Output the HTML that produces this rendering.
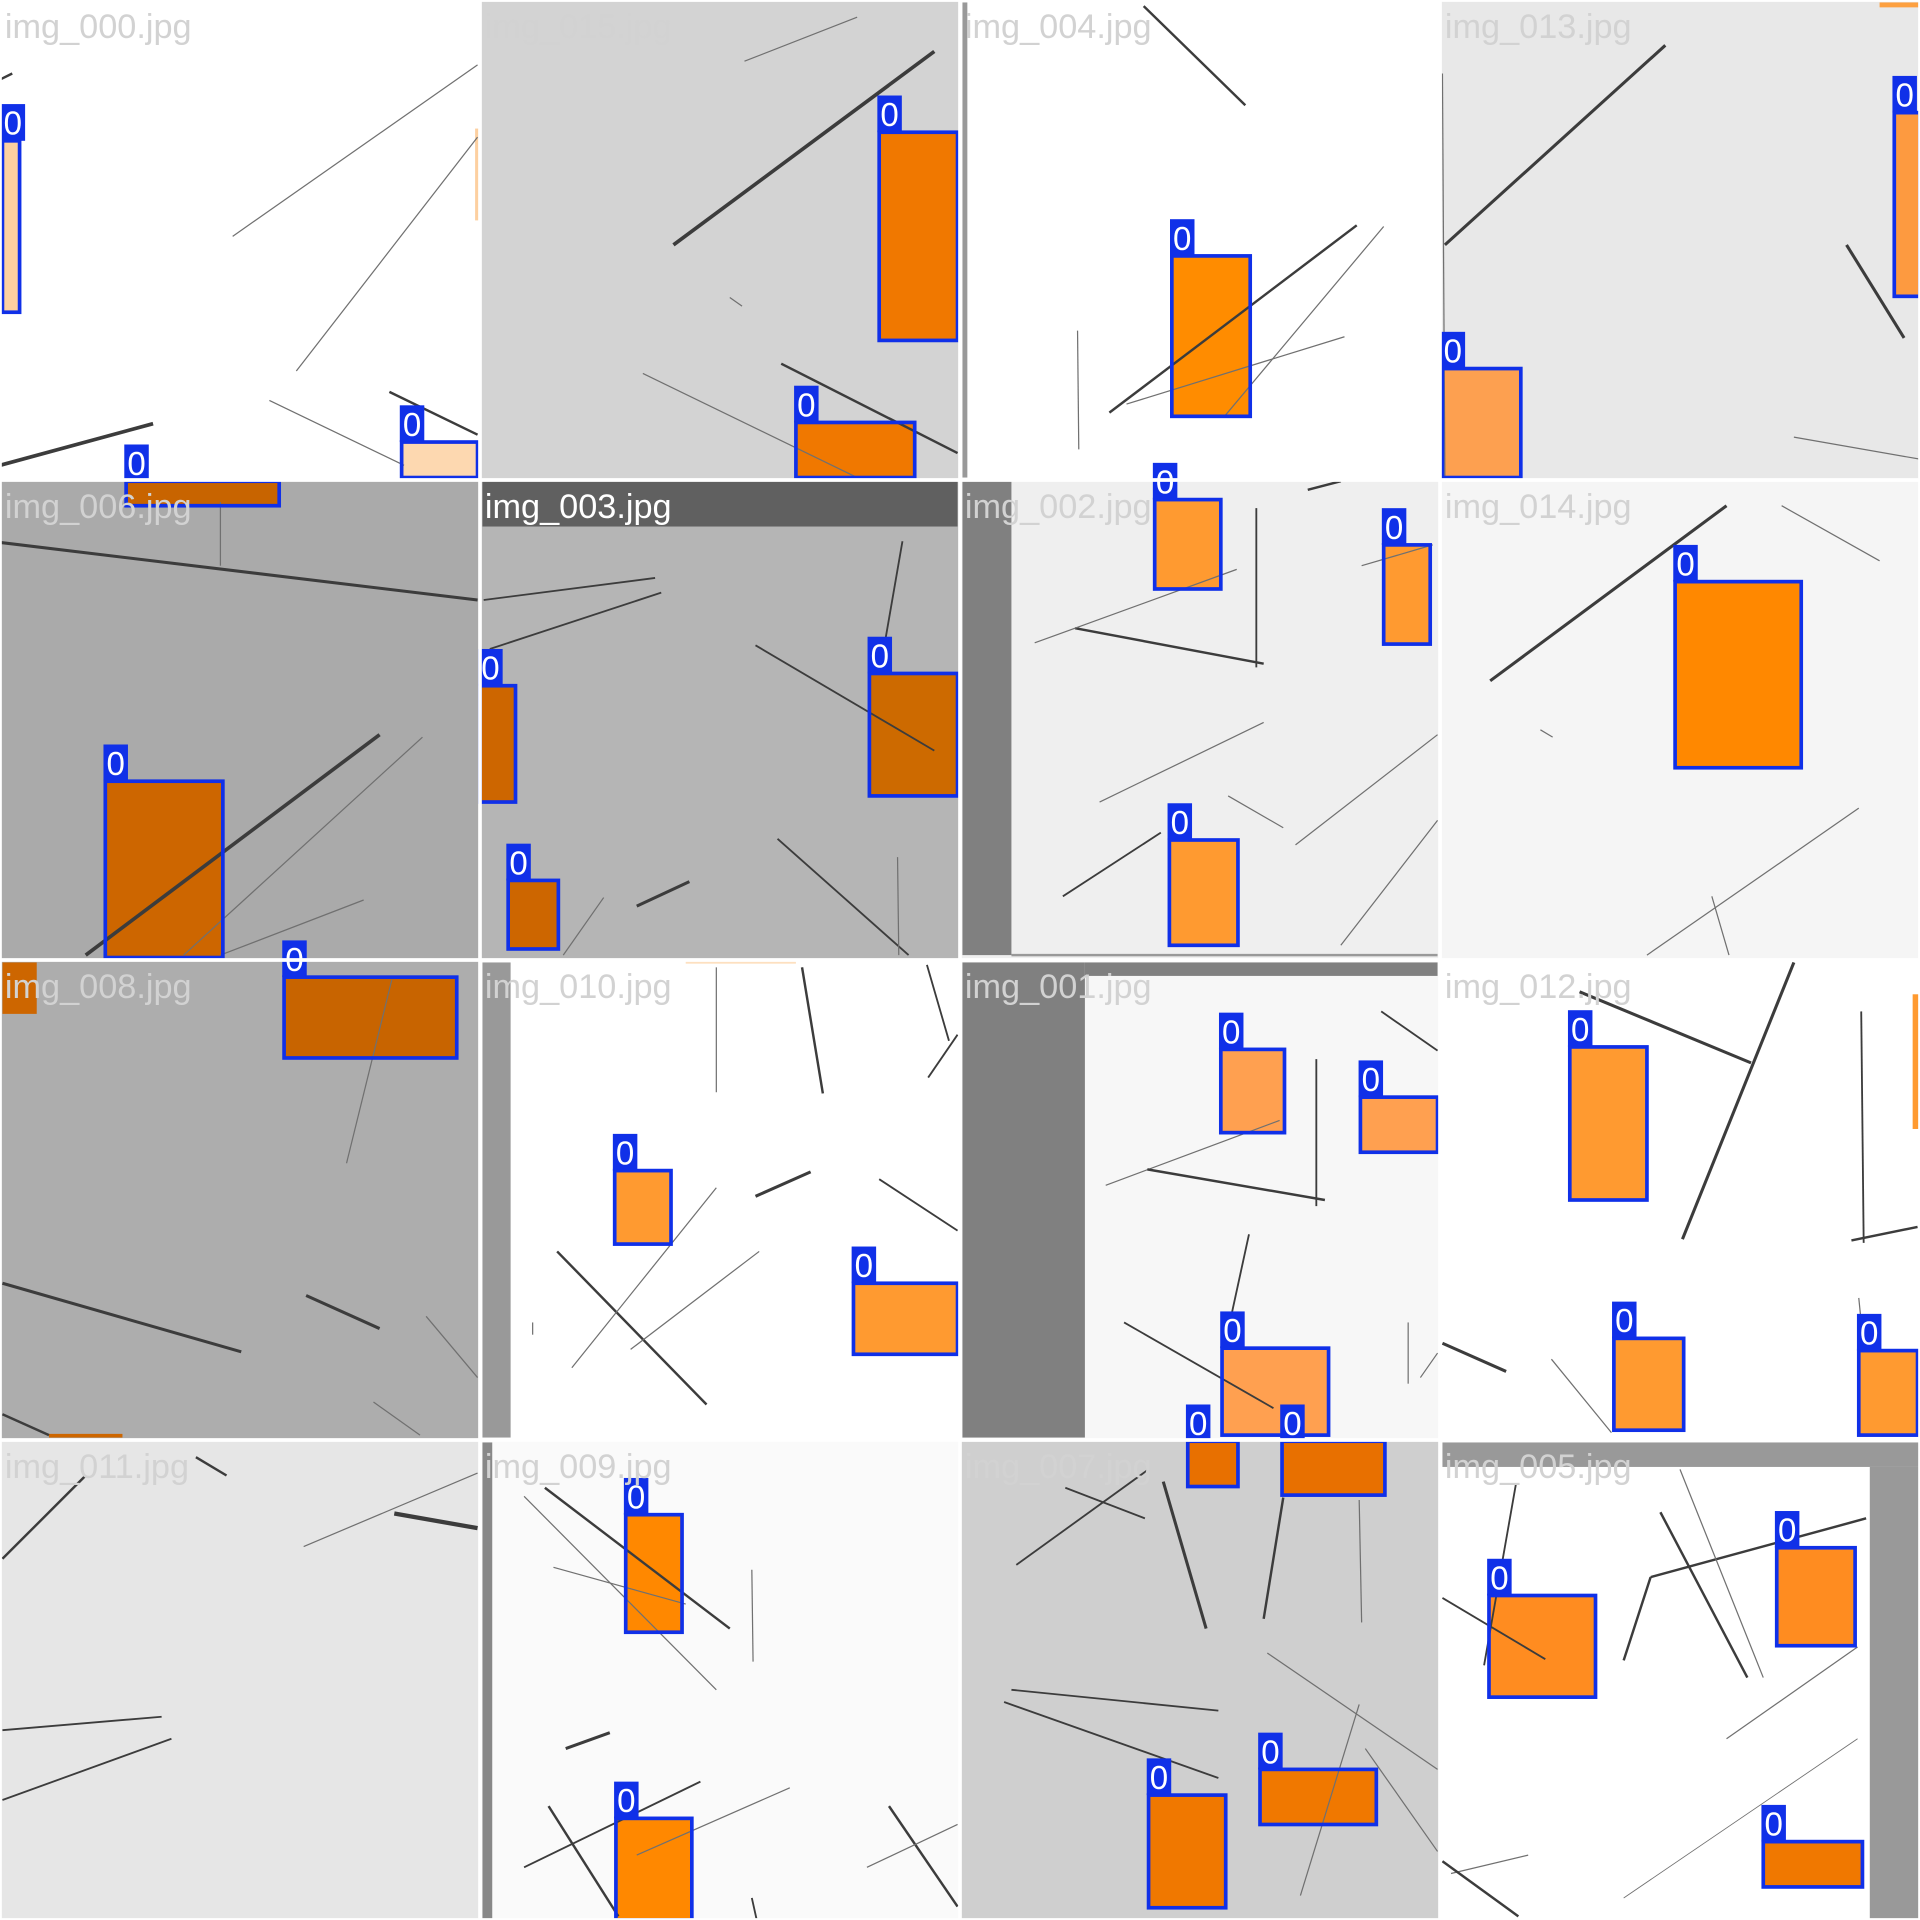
<!DOCTYPE html>
<html><head><meta charset="utf-8"><style>html,body{margin:0;padding:0;background:#fff}svg{display:block}</style></head>
<body>
<svg id="mosaic" width="1920" height="1920" viewBox="0 0 1568 1568" xmlns="http://www.w3.org/2000/svg"></svg>
<script>
const tileNames=["img_000.jpg","img_015.jpg","img_004.jpg","img_013.jpg","img_006.jpg","img_003.jpg","img_002.jpg","img_014.jpg","img_008.jpg","img_010.jpg","img_001.jpg","img_012.jpg","img_011.jpg","img_009.jpg","img_007.jpg","img_005.jpg"];
const tileBgs=["#ffffff","#d3d3d3","#ffffff","#e8e8e8","#aaaaaa","#b5b5b5","#efefef","#f5f5f5","#adadad","#ffffff","#f7f7f7","#ffffff","#e6e6e6","#fafafa","#cfcfcf","#ffffff"];
const extraRects=[[388,105,391,180,"#fdd0a0"],[786,2,790,390,"#999"],[1535,2,1568,6,"#fda040"],[394,393,782,430,"#606060"],[786,393,826,780,"#808080"],[826,779,1174,781,"#999"],[2,786,30,828,"#cd6600"],[40,1171,100,1174,"#cd6600"],[394,786,417,1174,"#999"],[560,785,650,787,"#fde0c0"],[786,786,886,1174,"#808080"],[886,786,1174,797,"#808080"],[1562,812,1568,922,"#ff9a30"],[394,1178,402,1568,"#888"],[1178,1178,1568,1198,"#999"],[1527,1198,1568,1568,"#999"]];
const segs=[[0,380,125,346,3],[190,193,390,53,1],[242,303,390,112,1],[220,327,330,380,1],[318,320,390,355,2],[0,65,10,60,2],
[550,200,763,42,3],[608,50,700,14,1],[638,297,782,370,2],[525,305,700,390,1],[596,243,606,250,1],
[934,5,1017,86,2],[906,337,1108,184,2],[880,270,881,367,1],[920,330,1098,275,1],[1130,185,1000,340,1],
[1180,200,1360,37,2.5],[1508,200,1555,276,2.5],[1465,357,1568,375,1],[1178,60,1180,390,1],
[0,443,390,490,2.5],[180,410,180,462,1],[70,780,310,600,3],[150,780,345,602,1],[180,780,297,735,1],
[395,490,535,472,1.5],[400,530,540,484,1.5],[617,527,763,613,1.5],[720,540,737,442,1.5],[635,685,742,780,1.5],[733,700,734,780,1],[520,740,563,720,2.5],[460,780,493,733,1],
[878,513,1032,542,2],[1026,415,1026,545,1.5],[1068,400,1095,393,2],[845,525,1010,465,1],[898,655,1032,590,1],[868,732,948,680,1.5],[1003,650,1048,676,1],[1058,690,1174,600,1],[1095,772,1174,670,1],[1112,462,1170,445,1],
[1217,556,1410,413,2.5],[1455,413,1535,458,1],[1258,596,1268,602,1],[1345,780,1518,660,1],[1398,732,1412,780,1],
[283,950,320,800,1],[2,1048,197,1104,2.5],[250,1058,310,1085,2.5],[348,1075,390,1125,1],[2,1155,40,1172,2],[305,1145,343,1172,1],
[655,790,672,893,2],[585,790,585,892,1],[757,788,775,850,1.5],[758,880,782,845,1.5],[617,977,662,957,2.5],[718,963,782,1005,1.5],[455,1022,577,1147,2],[467,1117,585,970,1],[515,1102,620,1022,1],[435,1080,435,1090,1],
[903,968,1045,915,1],[937,955,1082,980,2],[1075,865,1075,985,1.5],[1128,826,1174,858,1.5],[1000,1100,1020,1008,1.5],[918,1080,1040,1150,1.5],[1150,1080,1150,1130,1],[1160,1125,1174,1105,1],
[1290,810,1430,868,2.5],[1374,1012,1465,786,2.5],[1520,826,1522,1015,1.5],[1512,1013,1566,1002,2],[1178,1097,1230,1120,2.5],[1267,1110,1316,1170,1],[1518,1060,1520,1080,1],
[2,1273,70,1205,2],[160,1190,185,1205,2],[248,1263,390,1203,1],[322,1236,390,1248,3.5],[2,1413,132,1402,1.5],[2,1470,140,1420,1.5],
[445,1215,596,1330,2],[428,1222,585,1380,1],[452,1280,560,1310,1],[614,1282,615,1357,1],[462,1428,498,1415,2.5],[428,1525,572,1455,1.5],[448,1475,505,1565,2],[520,1515,645,1460,1],[726,1475,782,1557,2],[708,1525,782,1490,1],[614,1550,618,1568,1.5],
[830,1278,938,1200,1.5],[870,1215,935,1240,1.5],[950,1210,985,1330,2.5],[1032,1322,1048,1223,2],[1110,1225,1112,1325,1],[826,1380,995,1397,1.5],[820,1390,995,1452,1.5],[1035,1350,1174,1445,1],[1062,1548,1110,1392,1],[1115,1428,1174,1512,1],
[1178,1305,1262,1355,1.5],[1212,1360,1238,1212,1.5],[1326,1356,1348,1288,2],[1348,1288,1524,1240,2],[1356,1235,1427,1370,2],[1372,1200,1440,1370,1],[1410,1420,1517,1345,1],[1326,1550,1517,1420,0.7],[1185,1530,1248,1515,1],[1178,1520,1240,1565,2]];
const boxes=[[2,115,16,255,"#fdd0a0"],[103,393,228,413,"#c86400"],[328,361,390,390,"#fdd8b0"],
[718,108,782,278,"#f07800"],[650,345,747,390,"#f07800"],[957,209,1021,340,"#ff8c00"],[1547,92,1568,242,"#fd9a40"],[1178,301,1242,390,"#fda050"],
[86,638,182,782,"#cd6600"],[392,560,421,655,"#cd6600"],[710,550,782,650,"#cd6a00"],[415,719,456,775,"#cd6600"],
[943,408,997,481,"#ff9a30"],[1130,445,1168,526,"#ff9a30"],[955,686,1011,772,"#ff9a30"],[1368,475,1471,627,"#ff8800"],
[232,798,373,864,"#c86400"],[502,956,548,1016,"#ff9a30"],[697,1048,782,1106,"#ff9a30"],
[997,857,1049,925,"#ffa050"],[1111,896,1174,941,"#ffa050"],[998,1101,1085,1172,"#ffa050"],
[1282,855,1345,980,"#ff9a30"],[1318,1093,1375,1168,"#ff9a30"],[1518,1103,1566,1172,"#ff9a30"],
[511,1237,557,1333,"#ff8800"],[503,1485,565,1568,"#ff8800"],
[970,1177,1011,1214,"#e87000"],[1047,1177,1131,1221,"#e87000"],[938,1466,1001,1558,"#f07800"],[1029,1445,1124,1490,"#f07800"],
[1216,1303,1303,1386,"#ff8c20"],[1451,1264,1515,1344,"#ff8c20"],[1440,1504,1521,1541,"#f07800"]];
const boxClass=boxes.map(()=> "0");

const NS="http://www.w3.org/2000/svg",svg=document.getElementById("mosaic"),T=392;
function mk(t,a){const e=document.createElementNS(NS,t);for(const k in a)e.setAttribute(k,a[k]);svg.appendChild(e);return e;}
tileNames.forEach((n,i)=>{const c=i%4,r=Math.floor(i/4);
 const e=mk("rect",{x:c*T,y:r*T,width:T,height:T,fill:tileBgs[i]});
 
 });
extraRects.forEach(q=>{const e=mk("rect",{x:q[0],y:q[1],width:q[2]-q[0],height:q[3]-q[1],fill:q[4]});
 
 });
boxes.forEach(b=>{const e=mk("rect",{x:b[0],y:b[1],width:b[2]-b[0],height:b[3]-b[1],fill:b[4]});
 
 });
segs.forEach(s=>{const e=mk("line",{x1:s[0],y1:s[1],x2:s[2],y2:s[3],stroke:s[4]>=1.5?"#3c3c3c":"#707070","stroke-width":s[4]});
 
 });
boxes.forEach((b,i)=>{const e=mk("rect",{x:b[0],y:b[1],width:b[2]-b[0],height:b[3]-b[1],fill:"none",stroke:"#1030e8","stroke-width":3});
 
 
 const l=mk("rect",{x:b[0]-1.5,y:b[1]-30,width:20,height:30,fill:"#1030e8"});
 
 
 const t=mk("text",{x:b[0]+8.5,y:b[1]-5,fill:"#fff","font-size":27,"font-family":"Liberation Sans, sans-serif","text-anchor":"middle"});
 t.textContent=boxClass[i];
 
 });
tileNames.forEach((n,i)=>{const c=i%4,r=Math.floor(i/4);
 const t=mk("text",{x:c*T+4,y:r*T+31,fill:i==5?"#ffffff":"#d2d2d2","font-size":28,"font-family":"Liberation Sans, sans-serif"});
 t.textContent=n;
 
 });
for(let k=0;k<=4;k++){
 const a=mk("line",{x1:k*T,y1:0,x2:k*T,y2:1568,stroke:"#fff","stroke-width":3});
 
 
 const b=mk("line",{x1:0,y1:k*T,x2:1568,y2:k*T,stroke:"#fff","stroke-width":3});
 
 }
</script>
</body></html>
